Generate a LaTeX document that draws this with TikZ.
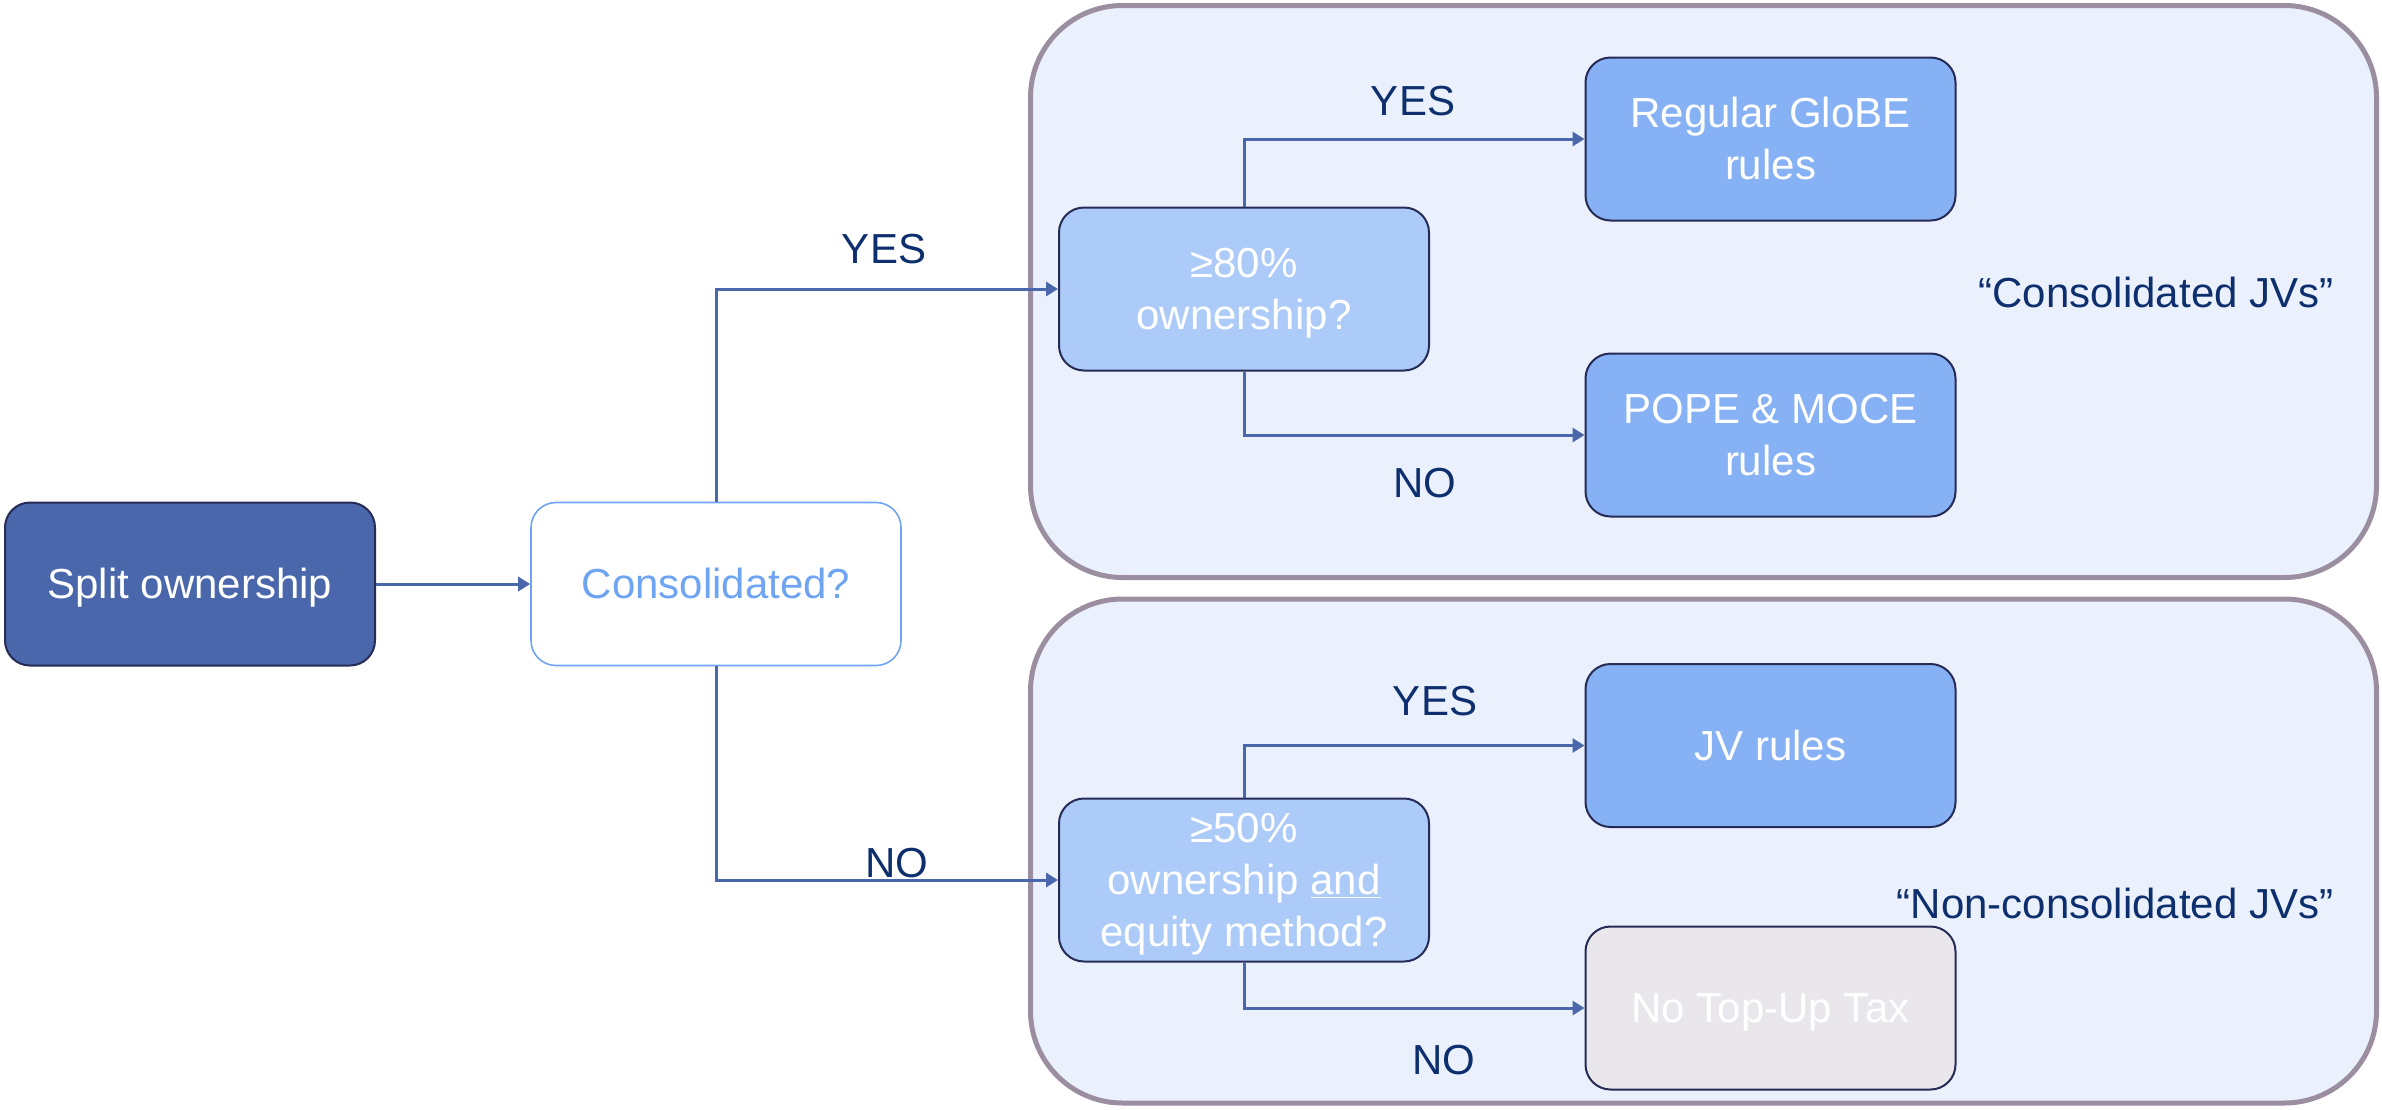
\documentclass[tikz,border=0pt]{standalone}
\usepackage{fontspec}
\setmainfont{Liberation Sans}
\usetikzlibrary{arrows.meta}

\definecolor{navy}{HTML}{0E2F6E}
\definecolor{edgedark}{HTML}{262B55}
\definecolor{flowblue}{HTML}{4A67AC}
\definecolor{lightline}{HTML}{6FA4F2}
\definecolor{qfill}{HTML}{ADCBF8}
\definecolor{rfill}{HTML}{86B1F4}
\definecolor{greyfill}{HTML}{E9E7EC}
\definecolor{groupfill}{HTML}{EAF0FC}
\definecolor{groupline}{HTML}{9B8EA0}

% invisible strut with the font's ascent and descent, so that box texts
% are centred on their full line height
\newcommand\lnstrut{\rule[-0.212em]{0pt}{1.117em}}

\tikzset{
  base/.style={rounded corners=12.5pt, line width=1pt, draw=edgedark,
    minimum width=185pt, minimum height=81.5pt, inner sep=0pt,
    align=center, font=\fontsize{21}{26}\selectfont},
  startbox/.style={base, fill=flowblue, text=white},
  askbox/.style={base, fill=white, draw=lightline, line width=0.8pt, text=lightline},
  qbox/.style={base, fill=qfill, text=white},
  rbox/.style={base, fill=rfill, text=white},
  greybox/.style={base, fill=greyfill, text=white},
  group/.style={rounded corners=46pt, line width=2.5pt, draw=groupline,
    fill=groupfill, inner sep=0pt},
  lbl/.style={text=navy, inner sep=0pt, font=\fontsize{21}{26}\selectfont},
  flow/.style={draw=flowblue, line width=1.5pt,
    -{Triangle[length=6pt,width=7pt]}}
}

\begin{document}
\begin{tikzpicture}[x=0.5pt, y=-0.5pt]
  \useasboundingbox (0,0) rectangle (2382,1109);

  % grouping panels
  \node[group, minimum width=673pt, minimum height=286pt] (gtop) at (1703.5,291.5) {};
  \node[group, minimum width=673pt, minimum height=252pt] (gbot) at (1703.5,851) {};

  % decision boxes
  \node[startbox] (split) at (190,584) {\lnstrut Split ownership\lnstrut};
  \node[askbox]   (cons)  at (716,584) {\lnstrut Consolidated?\lnstrut};
  \node[qbox]     (q80)   at (1244,289) {\lnstrut ≥80\%\\ownership?\lnstrut};
  \node[qbox]     (q50)   at (1244,880) {\lnstrut ≥50\%\\ownership \underline{and}\\equity method?\lnstrut};

  % outcome boxes
  \node[rbox]    (globe) at (1770.5,139) {\lnstrut Regular GloBE\\rules\lnstrut};
  \node[rbox]    (pope)  at (1770.5,435) {\lnstrut POPE \& MOCE\\rules\lnstrut};
  \node[rbox]    (jv)    at (1770.5,745.5) {\lnstrut JV rules\lnstrut};
  \node[greybox] (notax) at (1770.5,1008) {\lnstrut No Top-Up Tax\lnstrut};

  % connectors
  \draw[flow] (split) -- (cons);
  \draw[flow] (cons.north) |- (q80.west);
  \draw[flow] (cons.south) |- (q50.west);
  \draw[flow] (q80.north) |- (globe.west);
  \draw[flow] (q80.south) |- (pope.west);
  \draw[flow] (q50.north) |- (jv.west);
  \draw[flow] (q50.south) |- (notax.west);

  % branch labels
  \node[lbl] (y1) at (884,249) {YES};
  \node[lbl] (n1) at (897,863) {NO};
  \node[lbl] (y2) at (1413,101) {YES};
  \node[lbl] (n2) at (1425,483) {NO};
  \node[lbl] (y3) at (1435,701) {YES};
  \node[lbl] (n3) at (1444,1060) {NO};

  % panel captions
  \node[lbl] (cap1) at (2156,292) {“Consolidated JVs”};
  \node[lbl] (cap2) at (2115,903) {“Non-consolidated JVs”};
\end{tikzpicture}
\end{document}
